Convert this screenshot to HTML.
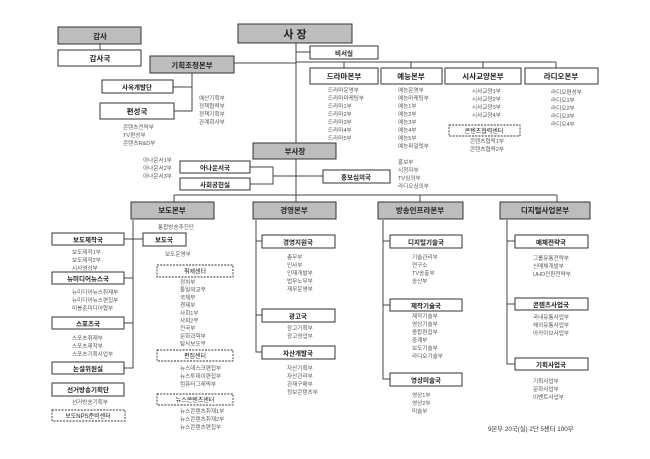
<!DOCTYPE html>
<html><head><meta charset="utf-8"><style>
html,body{margin:0;padding:0;background:#fff;width:650px;height:459px;overflow:hidden}
svg{display:block}
text{font-family:"Liberation Sans","Noto Sans CJK KR",sans-serif}
.b{font-size:7.5px;font-weight:bold;fill:#222;text-anchor:middle}
.l{font-size:5.6px;fill:#555}
.g{fill:#bdbdbd;stroke:#333;stroke-width:1}
.w{fill:#fff;stroke:#333;stroke-width:1}
.d{fill:#fff;stroke:#333;stroke-width:0.9;stroke-dasharray:2,1.2}
.ln{stroke:#444;stroke-width:1;fill:none}
</style></head><body>
<svg width="650" height="459" viewBox="0 0 650 459">
<!-- connectors -->
<path class="ln" d="M100 44V50 M296 43V195 M296 52H310 M234 63H296 M296 62H556 M344 62V68 M411 62V68 M483 62V68 M556 62V68
M192 73V111H174 M173 87H192 M250 167H273V184H250 M273 176H323
M174 195H557 M174 195V202 M296 195V202 M420 195V202 M557 195V202
M133 220V368H124 M124 239H133 M124 278H133 M124 323H133 M133 239H143
M256 220V352H262 M256 241H262 M256 315H262
M383 220V379H390 M383 241H390 M383 305H390
M507 220V364H515 M507 241H515 M507 304H515"/>
<!-- top -->
<rect class="g" x="58" y="27" width="83" height="17"/><text class="b" x="100" y="39">감사</text>
<rect class="w" x="58" y="50" width="83" height="16"/><text class="b" x="100" y="61">감사국</text>
<rect class="g" x="238" y="24" width="114" height="19"/><text class="b" x="295" y="38" style="font-size:11px">사 장</text>
<rect class="w" x="310" y="46" width="68" height="13"/><text class="b" x="344" y="55.5" style="font-size:6.5px">비서실</text>
<rect class="g" x="150" y="56" width="84" height="17"/><text class="b" x="192" y="68">기획조정본부</text>
<rect class="w" x="102" y="80" width="71" height="13"/><text class="b" x="137" y="89.5" style="font-size:6.5px">사옥개발단</text>
<rect class="w" x="100" y="103" width="74" height="16"/><text class="b" x="137" y="114">편성국</text>
<text class="l" x="199" y="100"><tspan x="199">예산기획부</tspan><tspan x="199" dy="8">정책협력부</tspan><tspan x="199" dy="8">정책기획부</tspan><tspan x="199" dy="8">관계회사부</tspan></text>
<text class="l" x="123" y="129"><tspan x="123">콘텐츠전략부</tspan><tspan x="123" dy="8">TV편성부</tspan><tspan x="123" dy="8">콘텐츠R&amp;D부</tspan></text>
<rect class="w" x="310" y="68" width="68" height="16"/><text class="b" x="344" y="79">드라마본부</text>
<rect class="w" x="381" y="68" width="61" height="16"/><text class="b" x="411" y="79">예능본부</text>
<rect class="w" x="445" y="68" width="76" height="16"/><text class="b" x="483" y="79">시사교양본부</text>
<rect class="w" x="525" y="68" width="73" height="16"/><text class="b" x="561" y="79">라디오본부</text>
<text class="l"><tspan x="328" y="92">드라마운영부</tspan><tspan x="328" dy="8">드라마마케팅부</tspan><tspan x="328" dy="8">드라마1부</tspan><tspan x="328" dy="8">드라마2부</tspan><tspan x="328" dy="8">드라마3부</tspan><tspan x="328" dy="8">드라마4부</tspan><tspan x="328" dy="8">드라마5부</tspan></text>
<text class="l"><tspan x="398" y="92">예능운영부</tspan><tspan x="398" dy="8">예능마케팅부</tspan><tspan x="398" dy="8">예능1부</tspan><tspan x="398" dy="8">예능2부</tspan><tspan x="398" dy="8">예능3부</tspan><tspan x="398" dy="8">예능4부</tspan><tspan x="398" dy="8">예능5부</tspan><tspan x="398" dy="8">예능파일럿부</tspan></text>
<text class="l"><tspan x="472" y="93">시사교양1부</tspan><tspan x="472" dy="8">시사교양2부</tspan><tspan x="472" dy="8">시사교양3부</tspan><tspan x="472" dy="8">시사교양4부</tspan></text>
<rect class="d" x="449" y="125" width="71" height="11"/><text class="b" x="484" y="133" style="font-size:6px;font-weight:normal">콘텐츠협력센터</text>
<text class="l"><tspan x="470" y="143">콘텐츠협력1부</tspan><tspan x="470" dy="8">콘텐츠협력2부</tspan></text>
<text class="l"><tspan x="551" y="94">라디오편성부</tspan><tspan x="551" dy="8">라디오1부</tspan><tspan x="551" dy="8">라디오2부</tspan><tspan x="551" dy="8">라디오3부</tspan><tspan x="551" dy="8">라디오4부</tspan></text>
<!-- 부사장 -->
<rect class="g" x="253" y="143" width="83" height="16"/><text class="b" x="295" y="154">부사장</text>
<rect class="w" x="180" y="161" width="70" height="12"/><text class="b" x="215" y="170" style="font-size:6.5px">아나운서국</text>
<rect class="w" x="180" y="178" width="70" height="12"/><text class="b" x="215" y="187" style="font-size:6.5px">사회공헌실</text>
<rect class="w" x="323" y="170" width="67" height="13"/><text class="b" x="356" y="179.5" style="font-size:6.5px">홍보심의국</text>
<text class="l"><tspan x="143" y="162">아나운서1부</tspan><tspan x="143" dy="8">아나운서2부</tspan><tspan x="143" dy="8">아나운서3부</tspan></text>
<text class="l"><tspan x="398" y="164">홍보부</tspan><tspan x="398" dy="8">시청자부</tspan><tspan x="398" dy="8">TV심의부</tspan><tspan x="398" dy="8">라디오심의부</tspan></text>
<!-- 본부 row -->
<rect class="g" x="131" y="202" width="83" height="17"/><text class="b" x="172" y="213">보도본부</text>
<rect class="g" x="253" y="202" width="83" height="17"/><text class="b" x="294" y="213">경영본부</text>
<rect class="g" x="378" y="202" width="85" height="17"/><text class="b" x="420" y="213">방송인프라본부</text>
<rect class="g" x="500" y="202" width="90" height="17"/><text class="b" x="545" y="213">디지털사업본부</text>
<!-- 보도 -->
<text class="l" x="158" y="229">통합방송추진단</text>
<rect class="w" x="52" y="233" width="72" height="12"/><text class="b" x="88" y="242" style="font-size:6.5px">보도제작국</text>
<rect class="w" x="143" y="233" width="43" height="13"/><text class="b" x="164" y="242" style="font-size:6.5px">보도국</text>
<text class="l"><tspan x="72" y="254">보도제작1부</tspan><tspan x="72" dy="8">보도제작2부</tspan><tspan x="72" dy="8">시사영상부</tspan></text>
<text class="l" x="165" y="256">보도운영부</text>
<rect class="w" x="52" y="272" width="72" height="12"/><text class="b" x="88" y="281" style="font-size:6.5px">뉴미디어뉴스국</text>
<text class="l"><tspan x="72" y="294">뉴미디어뉴스취재부</tspan><tspan x="72" dy="8">뉴미디어뉴스편집부</tspan><tspan x="72" dy="8">미봉춘미디어협부</tspan></text>
<rect class="w" x="52" y="317" width="72" height="12"/><text class="b" x="88" y="326" style="font-size:6.5px">스포츠국</text>
<text class="l"><tspan x="72" y="340">스포츠취재부</tspan><tspan x="72" dy="8">스포츠제작부</tspan><tspan x="72" dy="8">스포츠기획사업부</tspan></text>
<rect class="w" x="52" y="362" width="72" height="12"/><text class="b" x="88" y="371" style="font-size:6.5px">논설위원실</text>
<rect class="w" x="52" y="383" width="72" height="13"/><text class="b" x="88" y="392" style="font-size:6.5px">선거방송기획단</text>
<text class="l" x="72" y="404">선거방송기획부</text>
<rect class="d" x="52" y="410" width="73" height="11"/><text class="b" x="88" y="418" style="font-size:6px;font-weight:normal">보도NPS준비센터</text>
<rect class="d" x="157" y="265" width="76" height="12"/><text class="b" x="195" y="273.5" style="font-size:6px;font-weight:normal">취재센터</text>
<text class="l"><tspan x="180" y="284">정치부</tspan><tspan x="180" dy="7.7">통일외교부</tspan><tspan x="180" dy="7.7">국제부</tspan><tspan x="180" dy="7.7">경제부</tspan><tspan x="180" dy="7.7">사회1부</tspan><tspan x="180" dy="7.7">사회2부</tspan><tspan x="180" dy="7.7">전국부</tspan><tspan x="180" dy="7.7">문화과학부</tspan><tspan x="180" dy="7.7">탐사보도부</tspan></text>
<rect class="d" x="157" y="350" width="76" height="11"/><text class="b" x="195" y="358" style="font-size:6px;font-weight:normal">편집센터</text>
<text class="l"><tspan x="180" y="370">뉴스데스크편집부</tspan><tspan x="180" dy="8">뉴스투데이편집부</tspan><tspan x="180" dy="8">컴퓨터그래픽부</tspan></text>
<rect class="d" x="157" y="394" width="76" height="11"/><text class="b" x="195" y="402" style="font-size:6px;font-weight:normal">뉴스콘텐츠센터</text>
<text class="l"><tspan x="180" y="413">뉴스콘텐츠취재1부</tspan><tspan x="180" dy="8">뉴스콘텐츠취재2부</tspan><tspan x="180" dy="8">뉴스콘텐츠편집부</tspan></text>
<!-- 경영 -->
<rect class="w" x="262" y="235" width="73" height="13"/><text class="b" x="298" y="244.5" style="font-size:6.5px">경영지원국</text>
<text class="l"><tspan x="287" y="259">총무부</tspan><tspan x="287" dy="8">인사부</tspan><tspan x="287" dy="8">인재개발부</tspan><tspan x="287" dy="8">법무노무부</tspan><tspan x="287" dy="8">재무운영부</tspan></text>
<rect class="w" x="262" y="309" width="73" height="13"/><text class="b" x="298" y="318.5" style="font-size:6.5px">광고국</text>
<text class="l"><tspan x="287" y="330">광고기획부</tspan><tspan x="287" dy="8">광고영업부</tspan></text>
<rect class="w" x="262" y="346" width="73" height="13"/><text class="b" x="298" y="355.5" style="font-size:6.5px">자산개발국</text>
<text class="l"><tspan x="287" y="370">자산기획부</tspan><tspan x="287" dy="8">자산관리부</tspan><tspan x="287" dy="8">관재구매부</tspan><tspan x="287" dy="8">정보콘텐츠부</tspan></text>
<!-- 방송인프라 -->
<rect class="w" x="390" y="235" width="72" height="13"/><text class="b" x="426" y="244.5" style="font-size:6.5px">디지털기술국</text>
<text class="l"><tspan x="412" y="259">기술관리부</tspan><tspan x="412" dy="8">연구소</tspan><tspan x="412" dy="8">TV송출부</tspan><tspan x="412" dy="8">송신부</tspan></text>
<rect class="w" x="390" y="299" width="72" height="12"/><text class="b" x="426" y="308" style="font-size:6.5px">제작기술국</text>
<text class="l"><tspan x="412" y="318">제작기술부</tspan><tspan x="412" dy="8">영상기술부</tspan><tspan x="412" dy="8">종합편집부</tspan><tspan x="412" dy="8">중계부</tspan><tspan x="412" dy="8">보도기술부</tspan><tspan x="412" dy="8">라디오기술부</tspan></text>
<rect class="w" x="390" y="373" width="72" height="13"/><text class="b" x="426" y="382.5" style="font-size:6.5px">영상미술국</text>
<text class="l"><tspan x="412" y="397">영상1부</tspan><tspan x="412" dy="8">영상2부</tspan><tspan x="412" dy="8">미술부</tspan></text>
<!-- 디지털사업 -->
<rect class="w" x="515" y="235" width="73" height="13"/><text class="b" x="551" y="244.5" style="font-size:6.5px">매체전략국</text>
<text class="l"><tspan x="533" y="260">그룹유통전략부</tspan><tspan x="533" dy="8">신매체개발부</tspan><tspan x="533" dy="8">UHD전환전략부</tspan></text>
<rect class="w" x="515" y="298" width="73" height="12"/><text class="b" x="551" y="307" style="font-size:6.5px">콘텐츠사업국</text>
<text class="l"><tspan x="533" y="319">국내유통사업부</tspan><tspan x="533" dy="8">해외유통사업부</tspan><tspan x="533" dy="8">아카이브사업부</tspan></text>
<rect class="w" x="515" y="358" width="73" height="12"/><text class="b" x="551" y="367" style="font-size:6.5px">기획사업국</text>
<text class="l"><tspan x="533" y="383">기획사업부</tspan><tspan x="533" dy="8">문화사업부</tspan><tspan x="533" dy="8">이벤트사업부</tspan></text>
<text x="488" y="431" style="font-size:6.3px;fill:#333">9본부 20국(실) 2단 5센터 100부</text>
</svg>
</body></html>
